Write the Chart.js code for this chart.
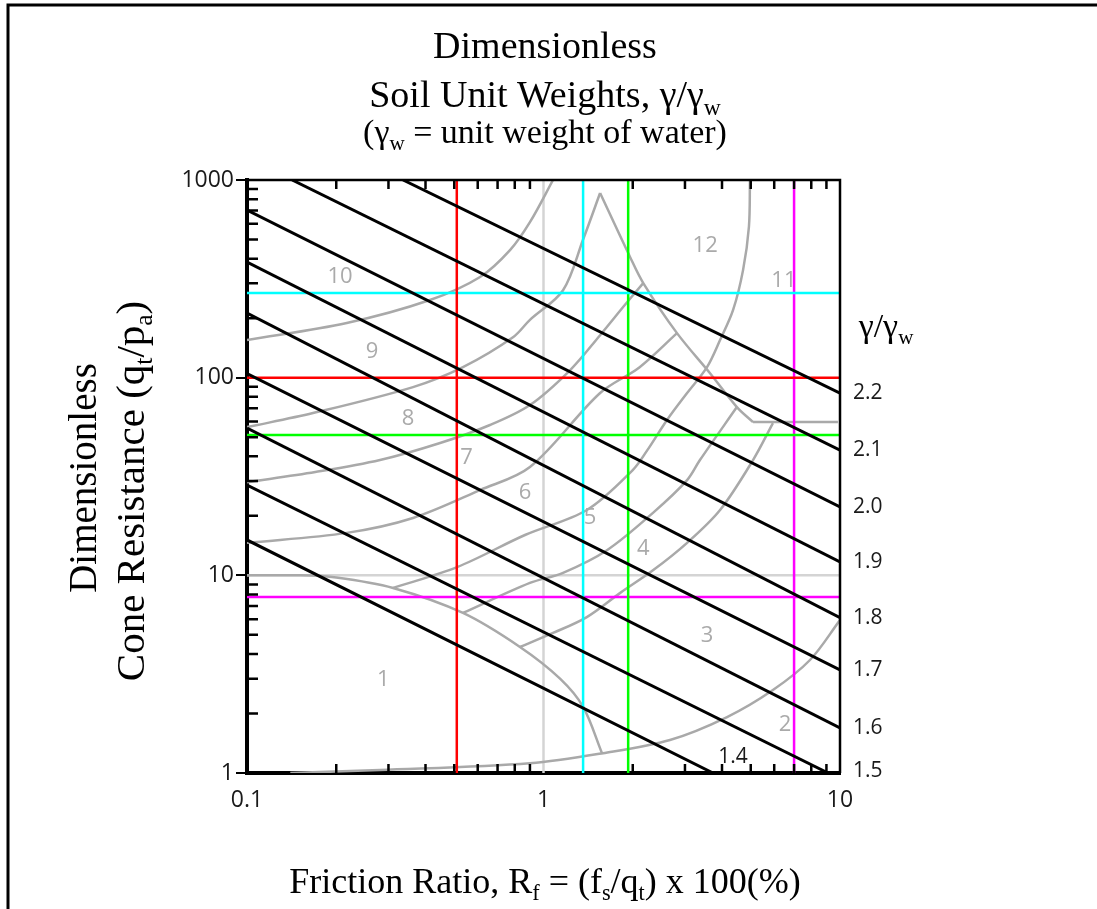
<!DOCTYPE html>
<html>
<head>
<meta charset="utf-8">
<script src="https://cdn.jsdelivr.net/npm/chart.js@4.4.1/dist/chart.umd.min.js"></script>
<style>
  html, body { margin: 0; padding: 0; background: #fff; }
  #wrap { width: 1097px; height: 909px; position: relative; }
</style>
</head>
<body>
<div id="wrap"><canvas id="soilChart"></canvas></div>
<script>
// axis ticks
const xTickValues = [0.1, 1, 10];
const xTickLabels = ['0.1', '1', '10'];
const yTickValues = [1, 10, 100, 1000];
const yTickLabels = ['1', '10', '100', '1000'];

// unit weight contours (gamma / gamma_w), straight in log-log space
const weightLabels = ['1.4', '1.5', '1.6', '1.7', '1.8', '1.9', '2.0', '2.1', '2.2'];
const weightStart = [[0.1, 15.1], [0.1, 28.6], [0.1, 55.6], [0.1, 105], [0.1, 212], [0.1, 384], [0.1, 704], [0.142, 1000], [0.336, 1000]];
const weightEnd = [[3.73, 1], [9.12, 1], [10, 1.69], [10, 3.32], [10, 6.1], [10, 11.7], [10, 22.2], [10, 43.0], [10, 83.6]];

// soil behaviour type zone boundaries, [Rf %, qt/pa]
const zone1Edge = [[0.1, 10], [0.151, 10], [0.2, 9.75], [0.311, 8.63], [0.535, 6.45], [0.833, 4.34], [1.137, 3.0], [1.36, 2.16], [1.575, 1.26]];
const arc23 = [[0.14, 1], [0.281, 1.035], [0.9, 1.12], [1.588, 1.26], [2.67, 1.47], [4.16, 1.92], [5.94, 2.63], [7.92, 3.73], [10, 5.94]];
const arc34 = [[0.833, 4.34], [1.077, 5.11], [1.40, 6.15], [1.81, 8.13], [2.34, 10.6], [3.05, 14.6], [3.94, 21.4], [5.09, 38.3], [5.94, 58.9]];
const arc45 = [[0.535, 6.45], [0.9, 9.15], [1.164, 10.3], [1.637, 13.4], [2.34, 20.7], [3.05, 30.3], [3.37, 38.3], [4.49, 71.0]];
const arc56 = [[0.311, 8.63], [0.511, 11.0], [0.866, 16.0], [1.40, 21.4], [2.00, 34.1], [2.24, 43.0], [2.61, 61.1], [3.05, 83.6], [3.56, 113], [3.94, 155], [4.36, 220], [4.71, 350], [4.93, 580], [4.97, 1000]];
const arc67 = [[0.1, 14.6], [0.217, 16.4], [0.363, 19.5], [0.611, 27.0], [0.9, 35.3], [1.552, 83.6], [2.11, 113], [2.82, 168]];
const arc78 = [[0.1, 29.6], [0.17, 33.3], [0.281, 38.3], [0.448, 46.7], [0.66, 57.6], [0.9, 72.7], [1.228, 109], [1.552, 164], [1.88, 233], [2.17, 301]];
const arc89 = [[0.1, 56.2], [0.167, 66.2], [0.363, 89.6], [0.535, 113], [0.789, 160], [0.9, 196], [1.164, 277], [1.36, 500], [1.552, 859]];
const arc910 = [[0.1, 155], [0.217, 189], [0.414, 247], [0.611, 323], [0.771, 442], [0.9, 612], [1.077, 1000]];
const zone12Edge = [[1.552, 859], [1.96, 407], [2.17, 301], [2.82, 168], [3.65, 105], [4.49, 71.0], [5.09, 59.6]];
const zone12Floor = [[5.09, 59.6], [9.84, 59.6]];
const zoneCurves = [zone1Edge, arc23, arc34, arc45, arc56, arc67, arc78, arc89, arc910, zone12Edge];

// zone numbers and where they sit
const zoneNames = ['1', '2', '3', '4', '5', '6', '7', '8', '9', '10', '11', '12'];
const zoneRf = [0.288, 6.53, 3.56, 2.17, 1.435, 0.866, 0.55, 0.349, 0.264, 0.206, 6.47, 3.51];
const zoneQ = [2.95, 1.75, 4.93, 13.7, 19.5, 26.1, 39.2, 61.8, 135, 323, 308, 463];

// coloured reference lines
const markerColors = ['#ff0000', '#00ffff', '#00ff00', '#ff00ff'];
const markerRf = [0.51, 1.36, 1.93, 7.0];
const markerQ = [100, 268, 51.3, 7.77];

const pts = arr => arr.map(p => ({ x: p[0], y: p[1] }));

const datasets = [];
weightLabels.forEach((lab, i) => {
  datasets.push({ label: 'w' + lab, data: pts([weightStart[i], weightEnd[i]]), borderColor: '#000', borderWidth: 3, tension: 0 });
});
markerColors.forEach((c, i) => {
  datasets.push({ label: 'v' + i, data: pts([[markerRf[i], 1], [markerRf[i], 1000]]), borderColor: c, borderWidth: 2.5, tension: 0 });
  datasets.push({ label: 'h' + i, data: pts([[0.1, markerQ[i]], [10, markerQ[i]]]), borderColor: c, borderWidth: 2.5, tension: 0 });
});
zoneCurves.forEach((c, i) => {
  datasets.push({ label: 'z' + (i + 1), data: pts(c), borderColor: '#a9a9a9', borderWidth: 2.5, tension: 0.33 });
});
datasets.push({ label: 'z12f', data: pts(zone12Floor), borderColor: '#a9a9a9', borderWidth: 2.5, tension: 0 });
datasets.push({ label: 'g1', data: pts([[1, 1], [1, 1000]]), borderColor: '#d4d4d4', borderWidth: 2.5, tension: 0 });
datasets.push({ label: 'g2', data: pts([[0.1, 10], [10, 10]]), borderColor: '#d4d4d4', borderWidth: 2.5, tension: 0 });

const serif = '"Liberation Serif", "Times New Roman", serif';
const sans = '"Open Sans", sans-serif';

// text with subscripts: parts = [[text, isSub], ...]
function richText(ctx, parts, x, y, size) {
  let w = 0;
  parts.forEach(p => {
    ctx.font = (p[1] ? size * 0.62 : size) + 'px ' + serif;
    w += ctx.measureText(p[0]).width;
  });
  let cx = x - w / 2;
  parts.forEach(p => {
    ctx.font = (p[1] ? size * 0.62 : size) + 'px ' + serif;
    ctx.fillText(p[0], cx, p[1] ? y + size * 0.2 : y);
    cx += ctx.measureText(p[0]).width;
  });
}

const decorPlugin = {
  id: 'decor',
  beforeDatasetsDraw(chart) {
    const { ctx, scales: { x, y } } = chart;
    ctx.save();
    ctx.fillStyle = '#aaaaaa';
    ctx.font = '22px ' + sans;
    ctx.textAlign = 'center';
    ctx.textBaseline = 'middle';
    zoneNames.forEach((n, i) => {
      ctx.fillText(n, x.getPixelForValue(zoneRf[i]), y.getPixelForValue(zoneQ[i]));
    });
    ctx.restore();
  },
  afterDraw(chart) {
    const { ctx, chartArea: a, scales: { x, y } } = chart;
    ctx.save();
    ctx.strokeStyle = '#000';
    ctx.fillStyle = '#000';

    // page frame
    ctx.lineWidth = 3;
    ctx.beginPath();
    ctx.moveTo(8, 909); ctx.lineTo(8, 5); ctx.lineTo(1097, 5);
    ctx.stroke();

    // top and right side of the plot box
    ctx.lineWidth = 2.5;
    ctx.beginPath();
    ctx.moveTo(a.left, a.top); ctx.lineTo(a.right, a.top); ctx.lineTo(a.right, a.bottom);
    ctx.stroke();

    // minor ticks, pointing inwards
    ctx.lineWidth = 2.5;
    ctx.beginPath();
    [0.1, 1].forEach(d => {
      for (let m = 2; m < 10; m++) {
        const px = x.getPixelForValue(d * m);
        ctx.moveTo(px, a.top); ctx.lineTo(px, a.top + 9);
        ctx.moveTo(px, a.bottom); ctx.lineTo(px, a.bottom - 9);
      }
    });
    [1, 10, 100].forEach(d => {
      for (let m = 2; m < 10; m++) {
        const py = y.getPixelForValue(d * m);
        ctx.moveTo(a.left, py); ctx.lineTo(a.left + 11, py);
      }
    });
    ctx.stroke();

    // unit weight values
    ctx.font = '21px ' + sans;
    ctx.fillStyle = '#1a1a1a';
    ctx.textBaseline = 'middle';
    weightLabels.forEach((lab, i) => {
      const e = weightEnd[i];
      if (e[0] > 9) {
        ctx.textAlign = 'left';
        ctx.fillText(lab, a.right + 13, Math.min(y.getPixelForValue(e[1]), a.bottom - 2));
      } else {
        ctx.textAlign = 'center';
        ctx.fillText(lab, x.getPixelForValue(e[0]) + 20, y.getPixelForValue(e[1]) - 16);
      }
    });

    // titles
    ctx.fillStyle = '#000';
    ctx.textBaseline = 'alphabetic';
    ctx.textAlign = 'left';
    richText(ctx, [['Dimensionless', false]], 545, 58, 38);
    richText(ctx, [['Soil Unit Weights, \u03b3/\u03b3', false], ['w', true]], 545, 107, 38);
    richText(ctx, [['(\u03b3', false], ['w', true], [' = unit weight of water)', false]], 545, 143, 34);
    richText(ctx, [['\u03b3/\u03b3', false], ['w', true]], 886, 337, 34);
    richText(ctx, [['Friction Ratio, R', false], ['f', true], [' = (f', false], ['s', true], ['/q', false], ['t', true], [') x 100(%)', false]], 545, 893, 36);

    ctx.save();
    ctx.translate(96, 478);
    ctx.rotate(-Math.PI / 2);
    richText(ctx, [['Dimensionless', false]], 0, 0, 39);
    ctx.restore();
    ctx.save();
    ctx.translate(144, 491);
    ctx.rotate(-Math.PI / 2);
    richText(ctx, [['Cone Resistance (q', false], ['t', true], ['/p', false], ['a', true], [')', false]], 0, 0, 41);
    ctx.restore();

    ctx.restore();
  }
};

new Chart(document.getElementById('soilChart'), {
  type: 'scatter',
  data: { datasets: datasets },
  plugins: [decorPlugin],
  options: {
    responsive: true,
    maintainAspectRatio: false,
    animation: false,
    showLine: true,
    layout: { padding: { left: 0, right: 257, top: 180, bottom: 96 } },
    elements: { point: { radius: 0 }, line: { fill: false } },
    plugins: { legend: { display: false }, tooltip: { enabled: false } },
    scales: {
      x: {
        type: 'logarithmic',
        min: 0.1,
        max: 10,
        afterBuildTicks: s => { s.ticks = xTickValues.map(v => ({ value: v })); },
        afterFit: s => { s.height = 40; },
        ticks: {
          autoSkip: false,
          maxRotation: 0,
          padding: 14,
          color: '#1a1a1a',
          font: { family: 'Open Sans', size: 23 },
          callback: (v, i) => xTickLabels[i]
        },
        grid: { display: true, drawOnChartArea: false, drawTicks: false },
        border: { color: '#000', width: 4 }
      },
      y: {
        type: 'logarithmic',
        min: 1,
        max: 1000,
        afterBuildTicks: s => { s.ticks = yTickValues.map(v => ({ value: v })); },
        afterFit: s => { s.width = 247; },
        ticks: {
          autoSkip: false,
          padding: 2,
          color: '#1a1a1a',
          font: { family: 'Open Sans', size: 23 },
          callback: (v, i) => yTickLabels[i]
        },
        grid: { display: true, drawOnChartArea: false, drawTicks: true, tickLength: 11, color: '#000', lineWidth: 2 },
        border: { color: '#000', width: 4 }
      }
    }
  }
});
</script>
</body>
</html>
